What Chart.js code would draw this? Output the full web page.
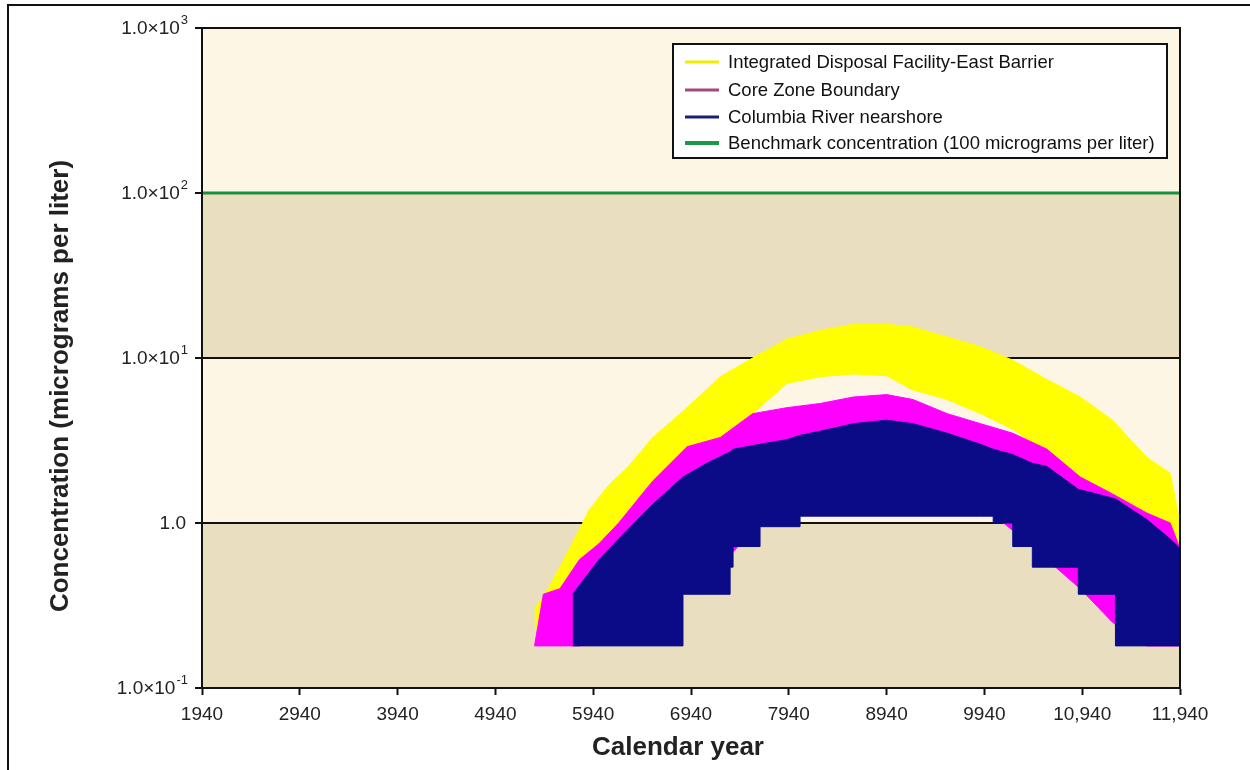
<!DOCTYPE html>
<html>
<head>
<meta charset="utf-8">
<script src="https://cdn.jsdelivr.net/npm/chart.js@4"></script>
<style>
  html, body { margin: 0; padding: 0; background: #fff; }
  #wrap { position: relative; width: 1250px; height: 770px; overflow: hidden; }
  #frame { position: absolute; left: 7px; top: 4px; width: 1300px; height: 800px; border-left: 2px solid #111; border-top: 2px solid #111; pointer-events: none; }
  canvas { position: absolute; left: 0; top: 0; }
</style>
</head>
<body>
<div id="wrap">
  <canvas id="chart" width="1250" height="770"></canvas>
  <div id="frame"></div>
</div>
<script>
// Concentration envelopes (micrograms per liter)

// Integrated Disposal Facility-East Barrier
const idfYears = [5340, 5500, 5700, 5900, 6100, 6300, 6550, 6900, 7240, 7570, 7920, 8260, 8600, 8940, 9210, 9560, 9900, 10230, 10580, 10920, 11250, 11600, 11840, 11940];
const idfHigh  = [0.30, 0.42, 0.70, 1.2, 1.7, 2.2, 3.3, 5.0, 7.7, 10, 13, 14.7, 16, 16, 15.4, 13.4, 11.7, 9.7, 7.4, 5.8, 4.2, 2.5, 2.0, 1.0];
const idfLow   = [0.23, 0.25, 0.35, 0.5, 0.65, 0.85, 1.4, 2.2, 3.2, 4.6, 7.0, 7.7, 8.0, 7.8, 6.4, 5.6, 4.6, 3.7, 2.65, 1.65, 1.25, 1.04, 0.72, 0.6];

// Core Zone Boundary
const czYears = [5340, 5430, 5600, 5800, 6000, 6200, 6550, 6900, 7240, 7570, 7920, 8260, 8600, 8940, 9210, 9560, 9900, 10230, 10580, 10920, 11250, 11600, 11840, 11940];
const czHigh  = [0.18, 0.37, 0.40, 0.60, 0.75, 1.0, 1.8, 2.9, 3.3, 4.6, 5.0, 5.3, 5.8, 6.0, 5.6, 4.6, 4.0, 3.5, 2.8, 1.9, 1.5, 1.15, 1.0, 0.7];
const czLow   = [0.18, 0.18, 0.18, 0.18, 0.20, 0.25, 0.30, 0.45, 0.55, 0.9, 1.3, 1.4, 1.5, 1.5, 1.5, 1.4, 1.3, 0.9, 0.6, 0.4, 0.25, 0.18, 0.18, 0.18];

// Columbia River nearshore (lower edge is stepped)
const crYears = [5730, 6000, 6200, 6550, 6858, 7100, 7340, 7370, 7646, 7920, 8055, 8260, 8600, 8940, 9210, 9560, 9900, 10030, 10230, 10430, 10580, 10900, 11280, 11600, 11840, 11940];
const crHigh  = [0.37, 0.6, 0.8, 1.3, 1.9, 2.3, 2.7, 2.8, 3.0, 3.2, 3.4, 3.6, 4.0, 4.2, 4.0, 3.5, 3.0, 2.8, 2.6, 2.3, 2.2, 1.6, 1.4, 1.05, 0.8, 0.7];
const crLow   = [0.18, 0.18, 0.18, 0.18, 0.37, 0.37, 0.54, 0.72, 0.95, 0.95, 1.1, 1.1, 1.1, 1.1, 1.1, 1.1, 1.1, 1.0, 0.72, 0.54, 0.54, 0.37, 0.18, 0.18, 0.18, 0.18];

// Benchmark
const benchYears = [1940, 11940];
const benchValue = [100, 100];

const xTicks = [1940, 2940, 3940, 4940, 5940, 6940, 7940, 8940, 9940, 10940, 11940];
const yTicks = [0.1, 1, 10, 100, 1000];
const yTickExp = ['-1', '', '1', '2', '3'];

const legendItems = [
    { text: 'Integrated Disposal Facility-East Barrier', color: '#EEEE00', width: 3 },
    { text: 'Core Zone Boundary', color: '#A3487F', width: 3 },
    { text: 'Columbia River nearshore', color: '#1C1C7A', width: 3 },
    { text: 'Benchmark concentration (100 micrograms per liter)', color: '#1A9A45', width: 4 }
];

const FONT = "'Liberation Sans', Arial, sans-serif";
Chart.defaults.font.family = FONT;
Chart.defaults.color = '#222';

const pts = (xs, ys) => xs.map((x, i) => ({ x: x, y: ys[i] }));

function band(xs, lo, hi, color, order, stepped) {
    return [
        { data: pts(xs, lo), borderColor: color, borderWidth: 1, pointRadius: 0, fill: false, order: order, stepped: !!stepped },
        { data: pts(xs, hi), borderColor: color, borderWidth: 1, pointRadius: 0, backgroundColor: color, fill: '-1', order: order }
    ];
}

// ==================== PLUGINS ====================
const bandsPlugin = {
    id: 'bands',
    beforeDraw(chart) {
        const { ctx, chartArea: a, scales: { y } } = chart;
        const colors = ['#E9DFC0', '#FDF6E5', '#E9DFC0', '#FDF6E5'];
        ctx.save();
        for (let i = 0; i < 4; i++) {
            const top = y.getPixelForValue(yTicks[i + 1]);
            const bot = y.getPixelForValue(yTicks[i]);
            ctx.fillStyle = colors[i];
            ctx.fillRect(a.left, top, a.right - a.left, bot - top);
        }
        ctx.restore();
    }
};

const frameLegendPlugin = {
    id: 'frameLegend',
    afterDatasetsDraw(chart) {
        const { ctx, chartArea: a, scales: { y } } = chart;
        ctx.save();
        ctx.strokeStyle = '#111';
        ctx.lineWidth = 2;
        ctx.strokeRect(a.left, a.top, a.right - a.left, a.bottom - a.top);

        // y tick labels with superscript exponents
        ctx.fillStyle = '#222';
        ctx.textBaseline = 'middle';
        yTicks.forEach((v, i) => {
            const py = y.getPixelForValue(v);
            const exp = yTickExp[i];
            let right = 188;
            ctx.textAlign = 'right';
            if (exp) {
                ctx.font = '13px ' + FONT;
                ctx.fillText(exp, right, py - 8);
                right -= ctx.measureText(exp).width + 1;
                ctx.font = '19px ' + FONT;
                ctx.fillText('1.0×10', right, py + 1);
            } else {
                ctx.font = '19px ' + FONT;
                ctx.fillText('1.0', right - 2, py + 1);
            }
        });

        // axis titles
        ctx.font = 'bold 26px ' + FONT;
        ctx.textAlign = 'center';
        ctx.fillText('Calendar year', 678, 748);
        ctx.save();
        ctx.translate(61, 386);
        ctx.rotate(-Math.PI / 2);
        ctx.fillText('Concentration (micrograms per liter)', 0, 0);
        ctx.restore();

        // legend box
        const bx = 673, by = 44, bw = 494, bh = 114;
        ctx.fillStyle = '#FFFFFF';
        ctx.fillRect(bx, by, bw, bh);
        ctx.strokeStyle = '#111';
        ctx.lineWidth = 2;
        ctx.strokeRect(bx, by, bw, bh);
        ctx.font = '18.5px ' + FONT;
        ctx.textAlign = 'left';
        const rows = [62, 90, 117, 143];
        legendItems.forEach((it, i) => {
            ctx.strokeStyle = it.color;
            ctx.lineWidth = it.width;
            ctx.beginPath();
            ctx.moveTo(685, rows[i]);
            ctx.lineTo(719, rows[i]);
            ctx.stroke();
            ctx.fillStyle = '#111';
            ctx.fillText(it.text, 728, rows[i] + 1);
        });
        ctx.restore();
    }
};

// ==================== CHART ====================
const datasets = [
    { data: pts(benchYears, benchValue), borderColor: '#1A8F40', borderWidth: 3, pointRadius: 0, fill: false, order: 0 },
    ...band(crYears, crLow, crHigh, '#0B0B87', 1, true),
    ...band(czYears, czLow, czHigh, '#FF00FF', 2),
    ...band(idfYears, idfLow, idfHigh, '#FFFF00', 3)
];

new Chart(document.getElementById('chart'), {
    type: 'line',
    data: { datasets: datasets },
    options: {
        responsive: false,
        animation: false,
        layout: { padding: { left: 12, top: 28, right: 70, bottom: 0 } },
        plugins: { legend: { display: false }, tooltip: { enabled: false } },
        scales: {
            x: {
                type: 'linear', min: 1940, max: 11940,
                afterBuildTicks: s => { s.ticks = xTicks.map(v => ({ value: v })); },
                afterFit: s => { s.height = 82; },
                ticks: { font: { size: 19 }, color: '#222', padding: 8, maxRotation: 0,
                    callback: v => v >= 10000 ? v.toLocaleString('en-US') : String(v) },
                grid: { drawOnChartArea: false, tickLength: 7, tickColor: '#111', tickWidth: 2 },
                border: { display: true, color: '#111', width: 2 }
            },
            y: {
                type: 'logarithmic', min: 0.1, max: 1000,
                afterBuildTicks: s => { s.ticks = yTicks.map(v => ({ value: v })); },
                afterFit: s => { s.width = 190; },
                ticks: { font: { size: 19 }, padding: 6, callback: () => '' },
                grid: { color: c => (c.tick && (c.tick.value === 1 || c.tick.value === 10)) ? '#111' : 'rgba(0,0,0,0)',
                    lineWidth: 2, tickLength: 7, tickColor: '#111', tickWidth: 2 },
                border: { display: true, color: '#111', width: 2 }
            }
        }
    },
    plugins: [bandsPlugin, frameLegendPlugin]
});
</script>
</body>
</html>
